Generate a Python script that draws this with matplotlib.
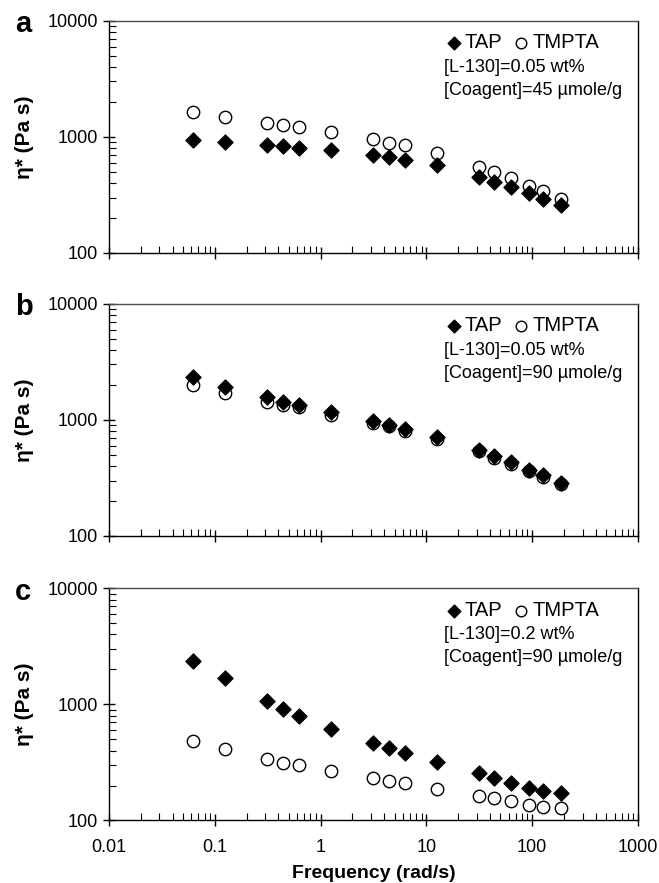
import matplotlib.pyplot as plt
from matplotlib.ticker import LogLocator, NullFormatter, FixedLocator
import numpy as np

plt.rcParams['font.family'] = ['Liberation Sans', 'DejaVu Sans']

# frequency (rad/s)
freq = [0.0628, 0.126, 0.314, 0.44, 0.628, 1.26, 3.14, 4.4, 6.28, 12.6,
        31.4, 44, 62.8, 94.2, 126, 188]

# complex viscosity (Pa s)
tap_a = [936, 900, 848, 836, 809, 767, 700, 668, 634, 570, 455, 412, 368, 327, 294, 261]
tmpta_a = [1643, 1487, 1320, 1268, 1211, 1096, 961, 882, 848, 723, 555, 499, 443, 381, 342, 292]

tap_b = [2328, 1933, 1563, 1425, 1352, 1169, 984, 908, 839, 706, 545, 484, 433, 371, 332, 285]
tmpta_b = [1986, 1706, 1425, 1352, 1282, 1109, 940, 879, 806, 687, 535, 474, 419, 362, 325, 281]

tap_c = [2372, 1672, 1075, 912, 788, 618, 462, 421, 379, 321, 255, 233, 212, 192, 181, 172]
tmpta_c = [487, 413, 339, 315, 299, 265, 230, 219, 209, 188, 164, 156, 147, 135, 130, 128]

panels = ['a', 'b', 'c']
l130 = ['0.05', '0.05', '0.2']
coagent = ['45', '90', '90']

fig = plt.figure(figsize=(6.59, 8.83), dpi=100)
bottoms = [0.7135, 0.393, 0.0708]
axes = [fig.add_axes([0.1654, b, 0.8027, 0.263]) for b in bottoms]

data = [(tap_a, tmpta_a), (tap_b, tmpta_b), (tap_c, tmpta_c)]

for i, ax in enumerate(axes):
    tap, tmpta = data[i]
    h2 = ax.scatter(freq, tmpta, marker='o', s=80, facecolors='white',
                    edgecolors='black', linewidths=1.0, zorder=3, label='TMPTA')
    h1 = ax.scatter(freq, tap, marker='D', s=58, color='black', zorder=4, label='TAP')
    ax.set_xscale('log')
    ax.set_yscale('log')
    ax.set_xlim(0.01, 1000)
    ax.set_ylim(100, 10000)

    ax.yaxis.set_major_locator(FixedLocator([100, 1000, 10000]))
    ax.yaxis.set_minor_locator(LogLocator(base=10, subs=np.arange(2, 10)))
    ax.xaxis.set_minor_locator(LogLocator(base=10, subs=np.arange(2, 10)))
    ax.yaxis.set_minor_formatter(NullFormatter())
    ax.xaxis.set_minor_formatter(NullFormatter())
    ax.set_yticklabels(['100', '1000', '10000'])
    ax.tick_params(which='major', direction='inout', length=9, width=1.0, labelsize=13)
    ax.tick_params(axis='x', which='major', pad=9)
    ax.tick_params(which='minor', direction='in', length=5, width=0.8)
    ax.tick_params(top=False, right=False)
    for s in ax.spines.values():
        s.set_linewidth(1.0)
    ax.spines['top'].set_color('0.3')

    if i < 2:
        ax.set_xticklabels([])
    else:
        ax.set_xticks([0.01, 0.1, 1, 10, 100, 1000])
        ax.set_xticklabels(['0.01', '0.1', '1', '10', '100', '1000'])
        ax.set_xlabel('Frequency (rad/s)', fontsize=14, fontweight='bold', labelpad=6)

    ax.set_ylabel('η* (Pa s)', fontsize=15, fontweight='bold')
    ax.yaxis.set_label_coords(-0.142, 0.5)

    ax.text(-0.178, 0.985, panels[i], transform=ax.transAxes, fontsize=21,
            fontweight='bold', ha='left', va='center')

    ax.legend(handles=[h1, h2], ncol=2, frameon=False, loc='center left',
              bbox_to_anchor=(0.638, 0.905), fontsize=14.5, handletextpad=0.2,
              columnspacing=0.6, handlelength=0.7, borderpad=0, borderaxespad=0,
              markerscale=0.85)
    ax.text(0.633, 0.80, '[L-130]=' + l130[i] + ' wt%', transform=ax.transAxes,
            fontsize=13, va='center', ha='left')
    ax.text(0.633, 0.70, '[Coagent]=' + coagent[i] + ' µmole/g', transform=ax.transAxes,
            fontsize=13, va='center', ha='left')

fig.savefig('out.png', dpi=100)
